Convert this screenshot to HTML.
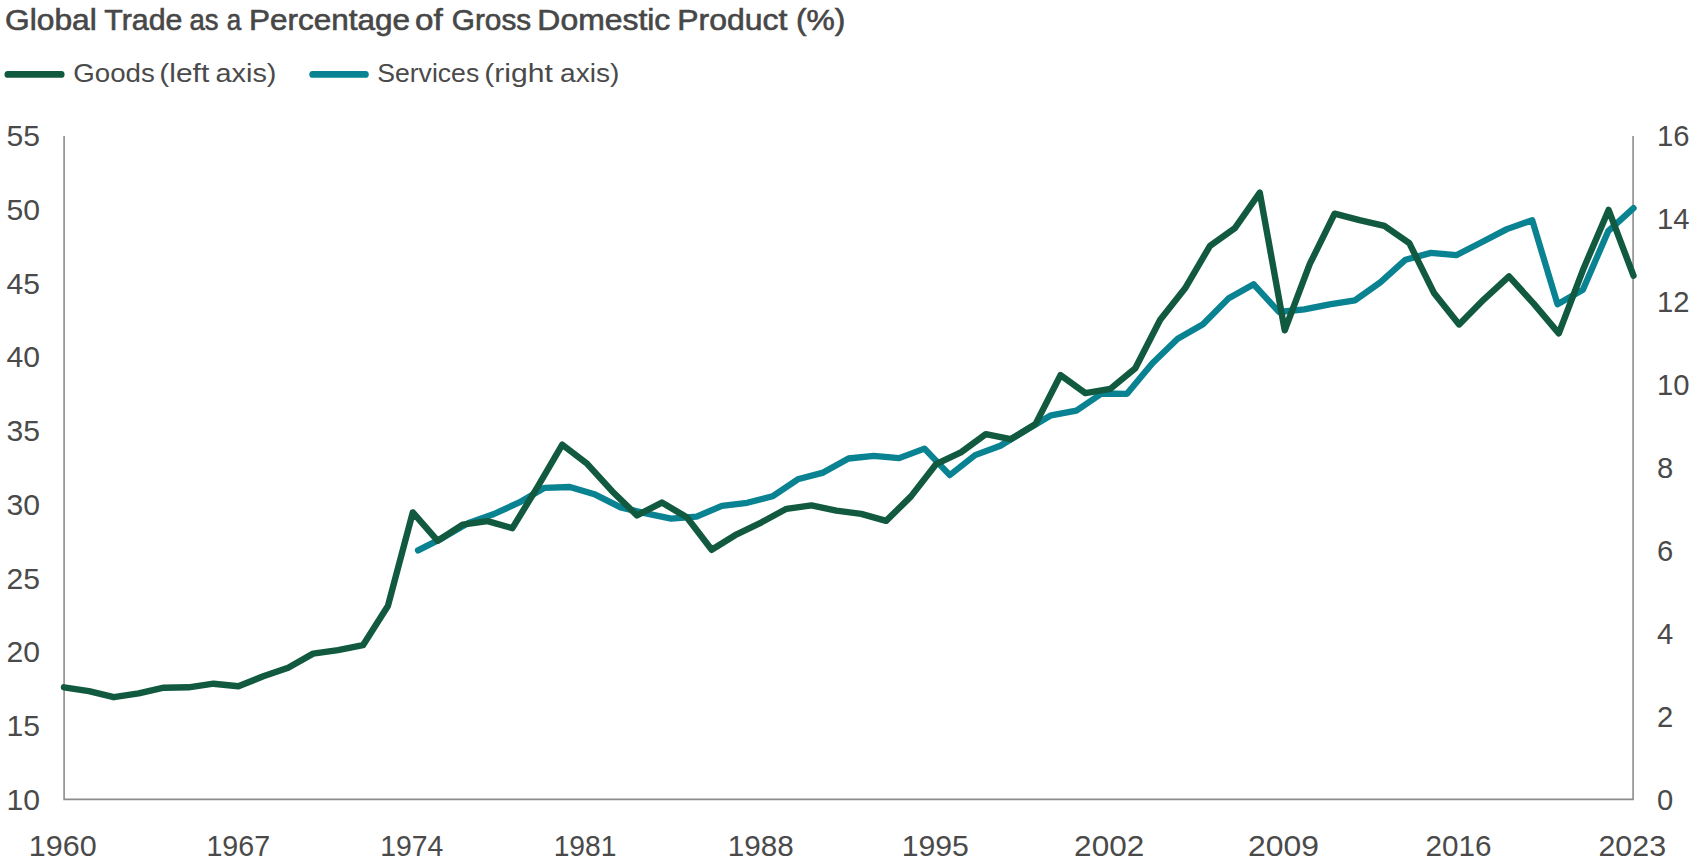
<!DOCTYPE html>
<html lang="en">
<head>
<meta charset="utf-8">
<title>Global Trade as a Percentage of Gross Domestic Product (%)</title>
<style>
html,body{margin:0;padding:0;background:#fff;}
body{width:1700px;height:868px;overflow:hidden;font-family:"Liberation Sans",sans-serif;}
svg{display:block;}
text{font-family:"Liberation Sans",sans-serif;fill:#4a4a4a;}
.title{font-size:28.6px;fill:#474747;stroke:#474747;stroke-width:0.6px;}
.leg{font-size:25.5px;}
.ax{font-size:29.2px;fill:#595959;}
</style>
</head>
<body>
<svg width="1700" height="868" viewBox="0 0 1700 868">
<rect width="1700" height="868" fill="#ffffff"/>
<text class="title" y="29.5"><tspan x="5.11" textLength="91.66" lengthAdjust="spacingAndGlyphs">Global</tspan> <tspan x="104.32" textLength="78.07" lengthAdjust="spacingAndGlyphs">Trade</tspan> <tspan x="189.48" textLength="29.11" lengthAdjust="spacingAndGlyphs">as</tspan> <tspan x="226.75" textLength="14.44" lengthAdjust="spacingAndGlyphs">a</tspan> <tspan x="249.01" textLength="160.89" lengthAdjust="spacingAndGlyphs">Percentage</tspan> <tspan x="414.95" textLength="27.69" lengthAdjust="spacingAndGlyphs">of</tspan> <tspan x="451.79" textLength="79.39" lengthAdjust="spacingAndGlyphs">Gross</tspan> <tspan x="537.37" textLength="132.93" lengthAdjust="spacingAndGlyphs">Domestic</tspan> <tspan x="677.33" textLength="109.99" lengthAdjust="spacingAndGlyphs">Product</tspan> <tspan x="795.95" textLength="49.44" lengthAdjust="spacingAndGlyphs">(%)</tspan></text>
<line x1="7.9" y1="74.4" x2="61.2" y2="74.4" stroke="#11593f" stroke-width="6.8" stroke-linecap="round"/>
<text class="leg" y="82.3"><tspan x="73.34" textLength="81.51" lengthAdjust="spacingAndGlyphs">Goods</tspan> <tspan x="159.36" textLength="49.89" lengthAdjust="spacingAndGlyphs">(left</tspan> <tspan x="215.46" textLength="61.00" lengthAdjust="spacingAndGlyphs">axis)</tspan></text>
<line x1="312.7" y1="74.4" x2="365.4" y2="74.4" stroke="#098292" stroke-width="6.8" stroke-linecap="round"/>
<text class="leg" y="82.3"><tspan x="377.21" textLength="101.99" lengthAdjust="spacingAndGlyphs">Services</tspan> <tspan x="484.31" textLength="68.54" lengthAdjust="spacingAndGlyphs">(right</tspan> <tspan x="560.04" textLength="59.33" lengthAdjust="spacingAndGlyphs">axis)</tspan></text>
<!-- axes -->
<path d="M64.1,136 V799.4 H1633.1 V136" fill="none" stroke="#8c8c8c" stroke-width="1.6"/>
<!-- left labels -->
<g class="ax" text-anchor="start">
<text x="6.5" y="146" textLength="33.5" lengthAdjust="spacingAndGlyphs">55</text>
<text x="6.5" y="219.8" textLength="33.5" lengthAdjust="spacingAndGlyphs">50</text>
<text x="6.5" y="293.6" textLength="33.5" lengthAdjust="spacingAndGlyphs">45</text>
<text x="6.5" y="367.3" textLength="33.5" lengthAdjust="spacingAndGlyphs">40</text>
<text x="6.5" y="441.1" textLength="33.5" lengthAdjust="spacingAndGlyphs">35</text>
<text x="6.5" y="514.9" textLength="33.5" lengthAdjust="spacingAndGlyphs">30</text>
<text x="6.5" y="588.7" textLength="33.5" lengthAdjust="spacingAndGlyphs">25</text>
<text x="6.5" y="662.4" textLength="33.5" lengthAdjust="spacingAndGlyphs">20</text>
<text x="6.5" y="736.2" textLength="33.5" lengthAdjust="spacingAndGlyphs">15</text>
<text x="6.5" y="810" textLength="33.5" lengthAdjust="spacingAndGlyphs">10</text>
</g>
<g class="ax" text-anchor="start">
<text x="1657" y="146">16</text>
<text x="1657" y="229">14</text>
<text x="1657" y="312">12</text>
<text x="1657" y="395">10</text>
<text x="1657" y="478">8</text>
<text x="1657" y="561">6</text>
<text x="1657" y="644">4</text>
<text x="1657" y="727">2</text>
<text x="1657" y="810">0</text>
</g>
<g class="ax" text-anchor="start">
<text x="28.80" y="855.5" textLength="67.86" lengthAdjust="spacingAndGlyphs">1960</text>
<text x="206.41" y="855.5" textLength="63.67" lengthAdjust="spacingAndGlyphs">1967</text>
<text x="380.26" y="855.5" textLength="63.14" lengthAdjust="spacingAndGlyphs">1974</text>
<text x="553.64" y="855.5" textLength="62.84" lengthAdjust="spacingAndGlyphs">1981</text>
<text x="727.82" y="855.5" textLength="66.00" lengthAdjust="spacingAndGlyphs">1988</text>
<text x="901.70" y="855.5" textLength="67.23" lengthAdjust="spacingAndGlyphs">1995</text>
<text x="1074.13" y="855.5" textLength="70.05" lengthAdjust="spacingAndGlyphs">2002</text>
<text x="1248.11" y="855.5" textLength="70.95" lengthAdjust="spacingAndGlyphs">2009</text>
<text x="1425.51" y="855.5" textLength="66.00" lengthAdjust="spacingAndGlyphs">2016</text>
<text x="1598.43" y="855.5" textLength="67.63" lengthAdjust="spacingAndGlyphs">2023</text>
</g>
<polyline fill="none" stroke="#098292" stroke-width="6.3" stroke-linejoin="round" stroke-linecap="round" points="418.0,550.4 443.3,537.6 468.6,522.9 494.0,514.0 519.3,502.4 544.6,487.8 569.9,487.0 595.3,494.6 620.6,507.4 645.9,513.4 671.2,518.7 696.6,516.6 721.9,505.8 747.2,502.8 772.5,496.3 797.8,479.3 823.2,472.6 848.5,458.5 873.8,455.8 899.1,458.1 924.5,448.6 949.8,475.1 975.1,455.1 1000.4,445.8 1025.8,430.3 1051.1,415.3 1076.4,410.6 1101.7,393.5 1127.0,393.8 1152.4,363.2 1177.7,338.8 1203.0,324.2 1228.3,298.6 1253.7,284.3 1279.0,312.0 1304.3,309.3 1329.6,304.3 1354.9,300.4 1380.3,282.4 1405.6,259.7 1430.9,252.9 1456.2,255.2 1481.6,242.2 1506.9,229.1 1532.2,220.2 1557.5,304.2 1582.9,289.8 1608.2,231.2 1633.5,208.1"/>
<polyline fill="none" stroke="#11593f" stroke-width="6.4" stroke-linejoin="round" stroke-linecap="round" points="64.0,687.3 88.9,691.1 113.8,697.2 138.7,693.3 163.7,687.7 188.6,687.3 213.5,683.7 238.4,686.3 263.3,676.3 288.2,667.7 313.1,653.6 338.0,650.2 363.0,645.2 387.9,606.0 412.8,512.4 437.7,540.8 462.6,524.6 487.5,521.2 512.4,528.2 537.3,487.3 562.3,444.7 587.2,463.8 612.1,491.2 637.0,515.4 661.9,502.6 686.8,517.2 711.7,549.8 736.7,534.3 761.6,522.3 786.5,508.8 811.4,505.4 836.3,510.7 861.2,513.9 886.1,520.9 911.0,496.4 936.0,464.2 960.9,452.3 985.8,434.1 1010.7,439.2 1035.6,423.9 1060.5,375.2 1085.4,393.1 1110.3,388.9 1135.3,368.2 1160.2,319.8 1185.1,288.3 1210.0,245.8 1234.9,228.1 1259.8,192.7 1284.7,330.3 1309.7,264.2 1334.6,213.7 1359.5,220.1 1384.4,225.9 1409.3,243.2 1434.2,293.3 1459.1,324.4 1484.0,299.3 1509.0,276.3 1533.9,303.9 1558.8,333.4 1583.7,268.2 1608.6,209.9 1633.5,275.7"/>
</svg>
</body>
</html>
